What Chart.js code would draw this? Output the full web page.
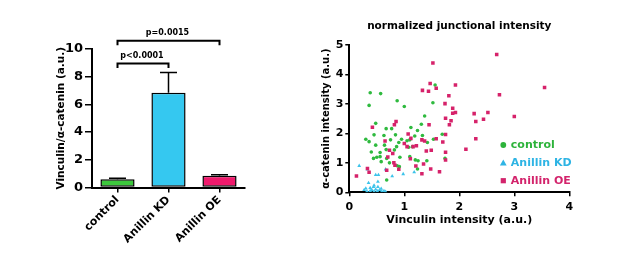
<!DOCTYPE html>
<html>
<head>
<meta charset="utf-8">
<script src="https://cdn.jsdelivr.net/npm/chart.js@4.4.1/dist/chart.umd.min.js"></script>
<style>
  html, body { margin: 0; padding: 0; background: #fff; }
  body { width: 617px; height: 262px; position: relative; overflow: hidden; }
  .box { position: absolute; top: 0; height: 262px; }
  #barBox { left: 0; width: 290px; }
  #scatterBox { left: 290px; width: 327px; }
</style>
</head>
<body>
<div class="box" id="barBox"><canvas id="barChart"></canvas></div>
<div class="box" id="scatterBox"><canvas id="scatterChart"></canvas></div>
<script>
// ---- bar chart data ----
const groups = ["control", "Anillin KD", "Anillin OE"];
const ratioMeans = [0.6, 6.85, 0.85];
const ratioErrors = [0.07, 1.45, 0.07];
const barColors = ["#3dc83d", "#35c8f0", "#ef1a6c"];
const bracketPairs = [[0, 1], [0, 2]];
const bracketLevels = [8.95, 10.6];
const bracketTexts = ["p<0.0001", "p=0.0015"];

// ---- scatter data (x = vinculin, y = alpha-catenin) ----
const seriesNames = ["control", "Anillin KD", "Anillin OE"];
const seriesColors = ["#2fba3f", "#3cc3ea", "#d6226a"];
const legendColors = ["#2db33a", "#2eb4e4", "#d3246c"];
const controlPts = [
  [0.38, 3.38], [0.36, 2.95], [0.57, 3.35], [0.87, 3.11], [1.0, 2.91], [1.56, 3.64],
  [1.52, 3.04], [1.37, 2.59], [0.48, 2.34], [0.30, 1.80], [0.36, 1.72], [0.45, 1.95],
  [0.67, 2.16], [0.77, 2.16], [0.48, 1.60], [0.63, 1.93], [0.64, 1.60], [0.75, 1.78],
  [0.84, 1.95], [0.90, 1.69], [0.95, 1.80], [1.10, 1.78], [1.12, 2.20], [1.24, 2.10],
  [1.31, 2.31], [1.19, 1.91], [1.05, 1.75], [1.08, 1.53], [0.40, 1.37], [0.44, 1.15],
  [0.50, 1.19], [0.56, 1.21], [0.68, 1.15], [0.58, 1.04], [0.73, 1.00], [0.67, 1.45],
  [0.82, 1.44], [1.20, 1.10], [1.25, 1.07], [1.24, 0.79], [0.91, 0.87], [1.10, 1.21],
  [1.41, 1.07], [1.42, 1.69], [1.53, 1.80], [1.69, 1.97], [1.74, 1.15], [0.68, 0.42],
  [0.87, 0.90], [1.33, 1.93], [0.56, 1.35], [1.15, 1.55], [0.86, 1.55], [0.92, 1.19]
];
const kdPts = [
  [0.18, 0.90], [0.33, 0.78], [0.48, 0.59], [0.53, 0.59], [0.35, 0.32], [0.52, 0.36],
  [0.66, 0.78], [0.78, 0.55], [0.98, 0.62], [1.18, 0.68], [0.45, 0.23], [0.27, 0.08],
  [0.32, 0.03], [0.38, 0.05], [0.41, 0.08], [0.45, 0.03], [0.48, 0.10], [0.51, 0.04],
  [0.55, 0.08], [0.59, 0.03], [0.63, 0.05], [0.44, 0.18], [0.52, 0.18], [0.30, 0.13],
  [0.38, 0.15], [0.58, 0.12], [0.66, 0.02]
];
const oePts = [
  [2.68, 4.68], [1.52, 4.39], [1.47, 3.69], [1.44, 3.43], [1.58, 3.53], [1.33, 3.46],
  [1.93, 3.64], [1.81, 3.28], [1.74, 3.01], [1.88, 2.85], [1.93, 2.71], [1.88, 2.68],
  [1.75, 2.51], [1.85, 2.43], [1.82, 2.29], [2.27, 2.67], [2.30, 2.40], [2.44, 2.48],
  [2.52, 2.71], [3.00, 2.57], [2.73, 3.31], [3.55, 3.56], [2.30, 1.82], [2.12, 1.46],
  [0.42, 2.21], [0.85, 2.40], [0.82, 2.29], [1.07, 1.98], [1.12, 1.83], [1.00, 1.66],
  [1.05, 1.55], [1.16, 1.55], [1.22, 1.58], [1.32, 1.78], [1.37, 1.74], [1.45, 2.29],
  [1.58, 1.82], [1.75, 1.96], [1.70, 1.71], [0.65, 1.74], [0.79, 1.32], [0.70, 1.20],
  [1.11, 1.14], [1.49, 1.43], [1.75, 1.36], [1.75, 1.10], [1.21, 0.89], [1.35, 0.96],
  [1.48, 0.79], [1.64, 0.70], [1.32, 0.63], [0.83, 0.92], [0.90, 0.78], [0.33, 0.81],
  [0.36, 0.68], [0.13, 0.55], [0.68, 0.75], [0.73, 1.43], [0.81, 1.00], [1.40, 1.40]
];
const scatterTitle = "normalized junctional intensity";

const FONT = "'DejaVu Sans', 'Liberation Sans', Arial, sans-serif";
const toXY = pts => pts.map(p => ({ x: p[0], y: p[1] }));

// error bars + significance brackets
const errorBarPlugin = {
  id: "errorBars",
  afterDatasetsDraw(chart) {
    const { ctx, scales: { y } } = chart;
    const meta = chart.getDatasetMeta(0);
    ctx.save();
    ctx.strokeStyle = "#000";
    ctx.lineWidth = 1.5;
    meta.data.forEach((bar, i) => {
      const top = y.getPixelForValue(ratioMeans[i] + ratioErrors[i]);
      ctx.beginPath();
      ctx.moveTo(bar.x, bar.y);
      ctx.lineTo(bar.x, top);
      ctx.moveTo(bar.x - 8.5, top);
      ctx.lineTo(bar.x + 8.5, top);
      ctx.stroke();
    });

    ctx.lineWidth = 2;
    ctx.font = "bold 8px " + FONT;
    ctx.fillStyle = "#000";
    ctx.textAlign = "center";
    ctx.textBaseline = "middle";
    bracketPairs.forEach((pair, i) => {
      const x1 = meta.data[pair[0]].x;
      const x2 = meta.data[pair[1]].x;
      const yl = y.getPixelForValue(bracketLevels[i]);
      const yd = y.getPixelForValue(bracketLevels[i] - 0.33);
      ctx.beginPath();
      ctx.moveTo(x1, yd);
      ctx.lineTo(x1, yl);
      ctx.lineTo(x2, yl);
      ctx.lineTo(x2, yd);
      ctx.stroke();
      ctx.fillText(bracketTexts[i], (x1 + x2) / 2 - 1, yl - 8);
    });
    ctx.restore();
  }
};

new Chart(document.getElementById("barChart"), {
  type: "bar",
  data: {
    labels: groups,
    datasets: [{
      data: ratioMeans,
      backgroundColor: barColors,
      borderColor: "#000",
      borderWidth: 1.5,
      borderSkipped: false,
      barPercentage: 0.67,
      categoryPercentage: 1
    }]
  },
  options: {
    responsive: true,
    maintainAspectRatio: false,
    animation: false,
    layout: { padding: { top: 49, right: 45, left: 0, bottom: 0 } },
    plugins: { legend: { display: false }, tooltip: { enabled: false } },
    scales: {
      x: {
        afterFit: s => { s.height = 74.5; },
        grid: { offset: false, drawOnChartArea: false, tickLength: 5, color: "#000", lineWidth: 1.5 },
        border: { color: "#000", width: 2 },
        ticks: {
          color: "#000", autoSkip: false, minRotation: 45, maxRotation: 45, padding: 1,
          font: { family: FONT, size: 11, weight: "bold" }
        }
      },
      y: {
        min: 0, max: 10,
        afterFit: s => { s.width = 92; },
        grid: { drawOnChartArea: false, tickLength: 7, color: "#000", lineWidth: 1.5 },
        border: { color: "#000", width: 2 },
        ticks: {
          stepSize: 2, color: "#000", padding: 2,
          font: { family: FONT, size: 13, weight: "bold" }
        },
        title: {
          display: true, text: "Vinculin/α-catenin (a.u.)", color: "#000",
          font: { family: FONT, size: 10.5, weight: "bold" },
          padding: { top: 54.7, bottom: 0 }
        }
      }
    }
  },
  plugins: [errorBarPlugin]
});

// title + legend inside plot area
const scatterExtras = {
  id: "scatterExtras",
  afterDraw(chart) {
    const { ctx, chartArea } = chart;
    ctx.save();
    ctx.fillStyle = "#000";
    ctx.font = "bold 10.5px " + FONT;
    ctx.textAlign = "center";
    ctx.textBaseline = "middle";
    ctx.fillText(scatterTitle, (chartArea.left + chartArea.right) / 2, 26.5);

    const mx = chartArea.right - 66;
    const rows = [145, 162.7, 180.7];
    ctx.font = "bold 11px " + FONT;
    ctx.textAlign = "left";
    seriesNames.forEach((name, i) => {
      const yy = rows[i];
      ctx.fillStyle = legendColors[i];
      ctx.beginPath();
      if (i === 0) {
        ctx.arc(mx, yy, 2.9, 0, Math.PI * 2);
      } else if (i === 1) {
        ctx.moveTo(mx, yy - 3.3);
        ctx.lineTo(mx + 3.4, yy + 2.7);
        ctx.lineTo(mx - 3.4, yy + 2.7);
        ctx.closePath();
      } else {
        ctx.rect(mx - 2.6, yy - 2.6, 5.2, 5.2);
      }
      ctx.fill();
      ctx.fillText(name, mx + 7.5, yy + 0.5);
    });
    ctx.restore();
  }
};

new Chart(document.getElementById("scatterChart"), {
  type: "scatter",
  data: {
    datasets: [
      { label: seriesNames[0], data: toXY(controlPts), pointStyle: "circle", pointRadius: 1.8,
        backgroundColor: seriesColors[0], borderWidth: 0, order: 1 },
      { label: seriesNames[1], data: toXY(kdPts), pointStyle: "triangle", pointRadius: 2.2,
        backgroundColor: seriesColors[1], borderWidth: 0, order: 2 },
      { label: seriesNames[2], data: toXY(oePts), pointStyle: "rect", pointRadius: 2.5,
        backgroundColor: seriesColors[2], borderWidth: 0, order: 0 }
    ]
  },
  options: {
    responsive: true,
    maintainAspectRatio: false,
    animation: false,
    layout: { padding: { top: 45, right: 47.7, left: 0, bottom: 0 } },
    plugins: { legend: { display: false }, tooltip: { enabled: false } },
    scales: {
      x: {
        min: 0, max: 4,
        afterFit: s => { s.height = 69.7; },
        grid: { drawOnChartArea: false, tickLength: 4, color: "#000", lineWidth: 1.5 },
        border: { color: "#000", width: 2 },
        ticks: { stepSize: 1, color: "#000", padding: 4, font: { family: FONT, size: 11, weight: "bold" } },
        title: {
          display: true, text: "Vinculin intensity (a.u.)", color: "#000",
          font: { family: FONT, size: 11, weight: "bold" },
          padding: { top: 0, bottom: 35 }
        }
      },
      y: {
        min: 0, max: 5,
        afterFit: s => { s.width = 59.3; },
        grid: { drawOnChartArea: false, tickLength: 4, color: "#000", lineWidth: 1.5 },
        border: { color: "#000", width: 2 },
        ticks: { stepSize: 1, color: "#000", padding: 2, font: { family: FONT, size: 11, weight: "bold" } },
        title: {
          display: true, text: "α-catenin intensity (a.u.)", color: "#000",
          font: { family: FONT, size: 10, weight: "bold" },
          padding: { top: 30.7, bottom: 0 }
        }
      }
    }
  },
  plugins: [scatterExtras]
});
</script>
</body>
</html>
